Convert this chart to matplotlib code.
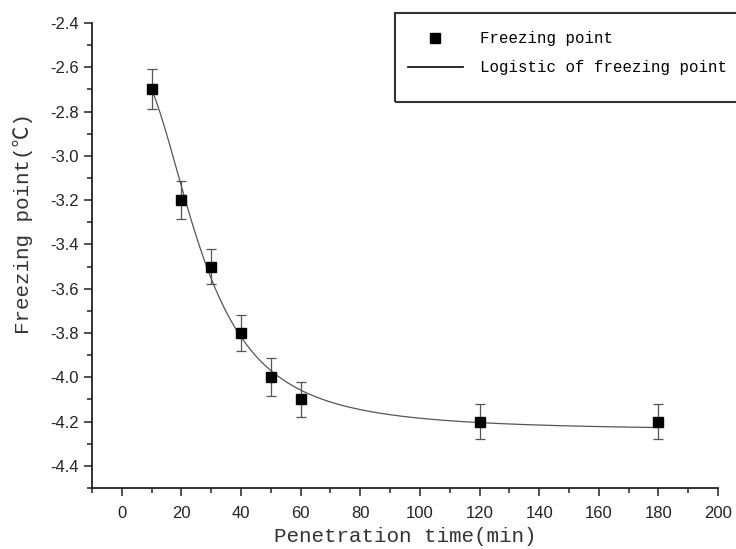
import numpy as np
import matplotlib
matplotlib.use('Agg')
import matplotlib.pyplot as plt
from matplotlib.ticker import MultipleLocator, FormatStrFormatter
from matplotlib.lines import Line2D
from matplotlib.patches import Rectangle

# ---- data ----
time_min = [10, 20, 30, 40, 50, 60, 120, 180]
freezing_point = [-2.70, -3.20, -3.50, -3.80, -4.00, -4.10, -4.20, -4.20]
error = [0.09, 0.085, 0.08, 0.08, 0.085, 0.08, 0.08, 0.08]
# Logistic fit (Origin form): y = A2 + (A1 - A2) / (1 + (x/x0)^p)
A1, A2, x0, p = -2.555, -4.24, 25.8, 2.5
legend_labels = ["Freezing point", "Logistic of freezing point"]
x_label = "Penetration time(min)"
y_label = "Freezing point(\u2103)"

plt.rcParams['axes.unicode_minus'] = False
tick_font = ['Liberation Sans', 'DejaVu Sans']
label_font = ['Liberation Mono', 'Noto Sans CJK SC', 'DejaVu Sans']

W, H = 736, 549
fig = plt.figure(figsize=(W / 100, H / 100), dpi=100)
ax = fig.add_axes([92 / W, 61 / H, 626 / W, 465 / H])

xs = np.linspace(min(time_min), max(time_min), 400)
ys = A2 + (A1 - A2) / (1 + (xs / x0) ** p)
ax.plot(xs, ys, color='#555555', lw=0.9, zorder=2)

ax.errorbar(time_min, freezing_point, yerr=error, fmt='none', ecolor='#555555',
            elinewidth=0.9, capsize=3.6, capthick=0.9, zorder=2)
ax.plot(time_min, freezing_point, 's', color='black', ms=7.5, zorder=3)

ax.set_xlim(-10, 200)
ax.set_ylim(-4.5, -2.4)
ax.xaxis.set_major_locator(MultipleLocator(20))
ax.xaxis.set_minor_locator(MultipleLocator(10))
ax.yaxis.set_major_locator(MultipleLocator(0.2))
ax.yaxis.set_minor_locator(MultipleLocator(0.1))
ax.xaxis.set_major_formatter(FormatStrFormatter('%d'))
ax.yaxis.set_major_formatter(FormatStrFormatter('%.1f'))

for s in ['top', 'right']:
    ax.spines[s].set_visible(False)
for s in ['left', 'bottom']:
    ax.spines[s].set_linewidth(1.3)
    ax.spines[s].set_color('#222222')

ax.tick_params(which='major', direction='out', length=5.8, width=1.1, color='#222222')
ax.tick_params(which='minor', direction='out', length=3.6, width=1.1, color='#222222')
ax.tick_params(axis='x', which='major', pad=7, labelsize=12, labelcolor='#222222')
ax.tick_params(axis='y', which='major', pad=4, labelsize=12, labelcolor='#222222')
for lab in ax.get_xticklabels() + ax.get_yticklabels():
    lab.set_family(tick_font)

ax.set_xlabel(x_label, family=label_font, fontsize=15, color='#333333')
ax.xaxis.set_label_coords(0.5, -(537 - 488) / 465)
ax.xaxis.label.set_va('center')
ax.set_ylabel(y_label, family=label_font, fontsize=15, color='#333333')
ax.yaxis.set_label_coords((23 - 92) / 626, (488 - 224) / 465)
ax.yaxis.label.set_va('center')

# legend frame
fig.patches.append(Rectangle((395 / W, 1 - 102 / H), (760 - 395) / W, 89 / H,
                             transform=fig.transFigure, fill=False,
                             ec='#333333', lw=1.5))
handles = [Line2D([], [], marker='s', ls='none', color='black', ms=7.5),
           Line2D([], [], color='#1a1a1a', lw=1.3)]
fig.legend(handles, legend_labels, loc='upper left',
           bbox_to_anchor=(408 / W, 1 - 31 / H), bbox_transform=fig.transFigure,
           frameon=False, borderpad=0, borderaxespad=0, handlelength=3.5,
           handletextpad=1.1, labelspacing=0.9,
           prop={'family': label_font, 'size': 11.3})

fig.savefig('out.png', dpi=100)
